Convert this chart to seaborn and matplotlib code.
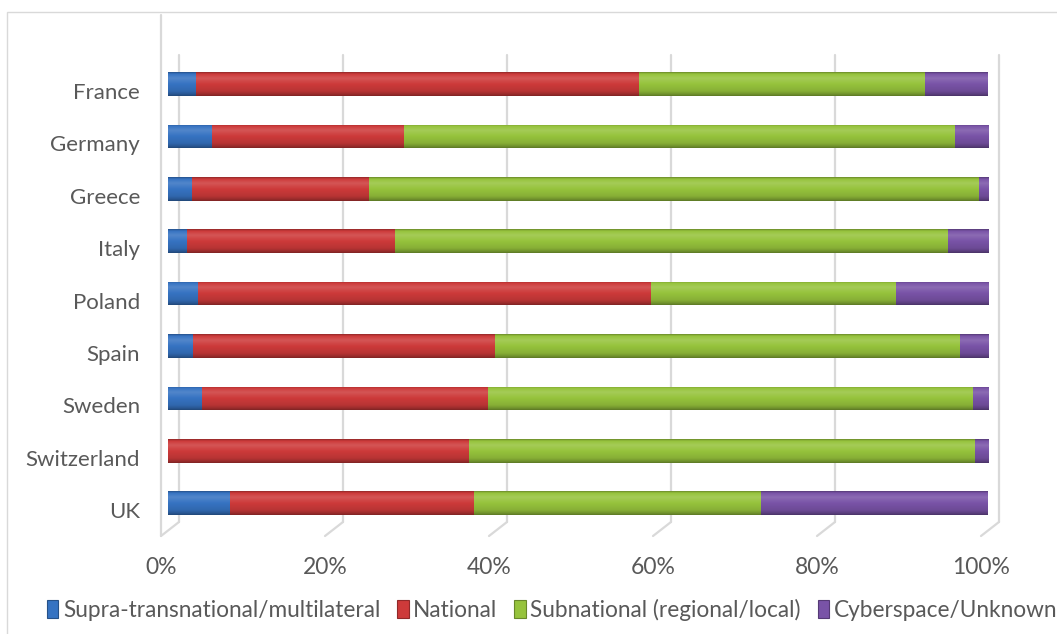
import numpy as np
import pandas as pd
import matplotlib
matplotlib.use("Agg")
import matplotlib.pyplot as plt
import seaborn as sns
from matplotlib.transforms import ScaledTranslation, blended_transform_factory
from matplotlib.patches import Patch, Rectangle
from matplotlib.colors import to_rgb

# ---------------- data ----------------
countries = ["France", "Germany", "Greece", "Italy", "Poland", "Spain",
             "Sweden", "Switzerland", "UK"]
supra = [3.3, 5.3, 2.9, 2.2, 3.6, 3.0, 4.1, 0.0, 7.5]
national = [54.1, 23.4, 21.5, 25.4, 55.2, 36.8, 34.9, 36.6, 29.8]
subnational = [34.8, 67.2, 74.4, 67.5, 29.9, 56.7, 59.1, 61.8, 34.9]
cyber = [7.8, 4.1, 1.2, 4.9, 11.3, 3.5, 1.9, 1.6, 27.8]

series_names = ["Supra-transnational/multilateral", "National",
                "Subnational (regional/local)", "Cyberspace/Unknown"]
colors = ["#3673c2", "#cd3a3a", "#96c33c", "#7953a7"]
xticks = [0, 20, 40, 60, 80, 100]
xticklabels = ["0%", "20%", "40%", "60%", "80%", "100%"]

df = pd.DataFrame({"country": countries, "s0": supra, "s1": national,
                   "s2": subnational, "s3": cyber})
cum = df[["s0", "s1", "s2", "s3"]].cumsum(axis=1)

# ---------------- figure ----------------
sns.set_theme(style="white")
plt.rcParams["font.family"] = ["Lato", "DejaVu Sans"]
W, H, DPI = 1057, 634, 100
fig = plt.figure(figsize=(W / DPI, H / DPI), dpi=DPI)
ax = fig.add_axes([168 / W, (H - 529.4) / H, 820 / W, 471.6 / H])

# outer chart border
fig.patches.append(Rectangle((7 / W, -0.1), 1.2, (H - 12) / H + 0.1,
                             transform=fig.transFigure, fill=False,
                             edgecolor="#d9d9d9", linewidth=1.0, zorder=0))

# stacked bars: draw cumulative totals from the largest down
for k in [3, 2, 1, 0]:
    sns.barplot(x=cum[f"s{k}"], y=df["country"], color=colors[k],
                saturation=1, width=0.45, orient="h", ax=ax, linewidth=0)


def shade(c, f):
    c = np.array(to_rgb(c))
    if f >= 1:
        return c + (1 - c) * (f - 1)
    return c * f


prof_pos = [0.0, 0.07, 0.25, 0.5, 0.8, 0.93, 1.0]
prof_fac = [0.72, 1.0, 1.14, 1.0, 0.9, 0.75, 0.62]
N = 48
tt = np.linspace(0, 1, N)
facs = np.interp(tt, prof_pos, prof_fac)

patch_colors = []
for k in [3, 2, 1, 0]:
    patch_colors += [colors[k]] * len(countries)

bar_patches = [p for p in ax.patches]
for i, (p, c) in enumerate(zip(bar_patches, patch_colors)):
    z = 2 + i * 0.1
    p.set_zorder(z)
    x0, y0, w, h = p.get_x(), p.get_y(), p.get_width(), p.get_height()
    if w <= 0:
        p.set_visible(False)
        continue
    grad = np.array([shade(c, f) for f in facs]).reshape(N, 1, 3)
    im = ax.imshow(grad, extent=(x0, x0 + w, y0 + h, y0), origin="upper",
                   aspect="auto", interpolation="bilinear", zorder=z + 0.05)
    im.set_clip_path(p)

ax.set_xlim(0, 100)
ax.set_ylim(len(countries) - 0.5, -0.5)

# 3D-like gridlines: back wall + floor diagonal
blend = blended_transform_factory(ax.transData, ax.transAxes)
back = blend + ScaledTranslation(11 / DPI, 0, fig.dpi_scale_trans)
y_top, y_back, y_front = 1.005, 0.0157, -0.0140
for t in xticks:
    ax.plot([t, t], [y_top, y_back], transform=back, color="#d9d9d9",
            lw=1.6, clip_on=False, zorder=1)
    trans_pts = [blend.transform((t, y_back)) + np.array([11, 0]),
                 blend.transform((t, y_front)) + np.array([-7, 0])]
    xs = [pt[0] for pt in trans_pts]
    ys = [pt[1] for pt in trans_pts]
    ax.plot(xs, ys, transform=None, color="#d9d9d9", lw=1.6,
            clip_on=False, zorder=1)
# left front edge
front = blend + ScaledTranslation(-7 / DPI, 0, fig.dpi_scale_trans)
ax.plot([0, 0], [1.09, y_front], transform=front, color="#d9d9d9",
        lw=1.6, clip_on=False, zorder=1)

for s in ax.spines.values():
    s.set_visible(False)
ax.grid(False)

ax.set_xticks(xticks)
ax.set_xticklabels(xticklabels)
ax.tick_params(axis="x", length=0, pad=20, labelsize=16.5, labelcolor="#595959")
ax.tick_params(axis="y", length=0, pad=20, labelsize=16, labelcolor="#595959")
for lab in ax.get_xticklabels():
    lab.set_transform(lab.get_transform() +
                      ScaledTranslation(-7 / DPI, 0, fig.dpi_scale_trans))
for lab in ax.get_yticklabels():
    lab.set_transform(lab.get_transform() +
                      ScaledTranslation(0, -7 / DPI, fig.dpi_scale_trans))
ax.set_xlabel("")
ax.set_ylabel("")

handles = [Patch(facecolor=c, edgecolor=shade(c, 0.7), linewidth=0.8)
           for c in colors]
fig.legend(handles, series_names, loc="center left",
           bbox_to_anchor=(47 / W, 1 - 610 / H), ncol=4, frameon=False,
           fontsize=16.3, labelcolor="#595959", handlelength=0.5,
           handleheight=0.85, handletextpad=0.2, columnspacing=0.75,
           borderpad=0, borderaxespad=0)

fig.savefig("out.png", dpi=DPI)
